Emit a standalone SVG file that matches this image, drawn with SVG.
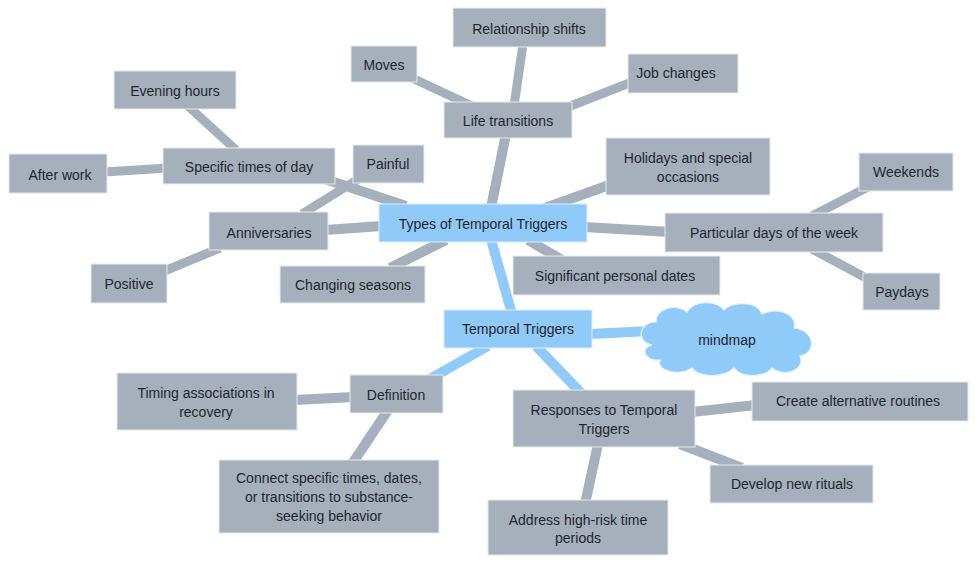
<svg xmlns="http://www.w3.org/2000/svg" width="978" height="566" viewBox="0 0 978 566">
<style>
.bg{fill:#ffffff}
.n rect{fill:#a6b0bc;stroke:#e6eaee;stroke-width:1}
.n.b rect{fill:#90caf9;stroke:#dceefc}
.cl{fill:#90caf9;stroke:#e6f3fd;stroke-width:1.2}
text{font-family:"Liberation Sans","Open Sans",sans-serif;font-size:14px;fill:#1e2530;text-anchor:middle;dominant-baseline:central}
.e line{stroke:#a6b0bc;stroke-linecap:butt}
.e .bl{stroke:#90caf9}
</style>
<rect class="bg" x="0" y="0" width="978" height="566"/>
<g id="connectors" class="e">
<line class="bl" x1="512" y1="314" x2="490" y2="236" stroke-width="10"/>
<line class="bl" x1="590" y1="334" x2="650" y2="331" stroke-width="10"/>
<line class="bl" x1="488" y1="346" x2="428" y2="380" stroke-width="10"/>
<line class="bl" x1="536" y1="346" x2="582" y2="394" stroke-width="10"/>
<line x1="491" y1="208" x2="506" y2="134" stroke-width="10"/>
<line x1="514" y1="106" x2="523" y2="44" stroke-width="9"/>
<line x1="412" y1="78" x2="472" y2="106" stroke-width="9"/>
<line x1="568" y1="107" x2="632" y2="82" stroke-width="9"/>
<line x1="545" y1="208" x2="612" y2="184" stroke-width="10"/>
<line x1="584" y1="227" x2="670" y2="232" stroke-width="10"/>
<line x1="812" y1="216" x2="868" y2="187" stroke-width="9"/>
<line x1="812" y1="249" x2="868" y2="279" stroke-width="9"/>
<line x1="528" y1="240" x2="562" y2="260" stroke-width="10"/>
<line x1="446" y1="240" x2="390" y2="268" stroke-width="10"/>
<line x1="382" y1="226" x2="325" y2="230" stroke-width="10"/>
<line x1="220" y1="248" x2="162" y2="272" stroke-width="9"/>
<line x1="406" y1="206" x2="322" y2="178" stroke-width="10"/>
<line x1="302" y1="214" x2="360" y2="178" stroke-width="9"/>
<line x1="188" y1="106" x2="236" y2="150" stroke-width="9"/>
<line x1="104" y1="172" x2="168" y2="168" stroke-width="9"/>
<line x1="294" y1="400" x2="354" y2="397" stroke-width="10"/>
<line x1="388" y1="410" x2="352" y2="464" stroke-width="10"/>
<line x1="692" y1="412" x2="756" y2="405" stroke-width="10"/>
<line x1="680" y1="444" x2="742" y2="468" stroke-width="10"/>
<line x1="598" y1="444" x2="585" y2="504" stroke-width="10"/>
</g>
<g id="n-root" class="n b"><rect x="444" y="310" width="148" height="38"/><text x="518" y="329">Temporal Triggers</text></g>
<g id="n-cloud"><path class="cl" d="M652,345 C636,342 638,322 656,322 C656,308 676,303 687,312 C694,300 716,300 724,310 C734,300 758,302 762,314 C776,306 798,314 794,328 C814,330 818,352 800,356 C806,370 784,378 772,368 C764,378 742,378 734,368 C724,378 700,378 692,368 C680,376 656,372 660,360 C644,362 640,347 652,345 Z"/><text x="727" y="340">mindmap</text></g>
<g id="n-types" class="n b"><rect x="379" y="204" width="208" height="38"/><text x="483" y="224">Types of Temporal Triggers</text></g>
<g id="n-life" class="n"><rect x="444" y="102" width="128" height="36"/><text x="508" y="121">Life transitions</text></g>
<g id="n-rel" class="n"><rect x="453" y="8" width="153" height="39"/><text x="529" y="29">Relationship shifts</text></g>
<g id="n-moves" class="n"><rect x="351" y="46" width="66" height="36"/><text x="384" y="65">Moves</text></g>
<g id="n-job" class="n"><rect x="628" y="54" width="110" height="39"/><text x="676" y="73">Job changes</text></g>
<g id="n-hol" class="n"><rect x="606" y="138" width="164" height="57"/><text x="688" y="158">Holidays and special</text><text x="688" y="177">occasions</text></g>
<g id="n-part" class="n"><rect x="665" y="213" width="218" height="39"/><text x="774" y="233">Particular days of the week</text></g>
<g id="n-week" class="n"><rect x="859" y="153" width="94" height="38"/><text x="906" y="172">Weekends</text></g>
<g id="n-pay" class="n"><rect x="863" y="273" width="77" height="37"/><text x="902" y="292">Paydays</text></g>
<g id="n-sig" class="n"><rect x="513" y="256" width="207" height="39"/><text x="615" y="276">Significant personal dates</text></g>
<g id="n-seas" class="n"><rect x="280" y="266" width="145" height="37"/><text x="353" y="285">Changing seasons</text></g>
<g id="n-ann" class="n"><rect x="209" y="212" width="119" height="38"/><text x="269" y="233">Anniversaries</text></g>
<g id="n-pos" class="n"><rect x="91" y="264" width="76" height="39"/><text x="129" y="284">Positive</text></g>
<g id="n-pain" class="n"><rect x="353" y="145" width="71" height="38"/><text x="388" y="164">Painful</text></g>
<g id="n-spec" class="n"><rect x="163" y="148" width="172" height="36"/><text x="249" y="167">Specific times of day</text></g>
<g id="n-eve" class="n"><rect x="114" y="71" width="122" height="38"/><text x="175" y="91">Evening hours</text></g>
<g id="n-after" class="n"><rect x="9" y="154" width="98" height="39"/><text x="60" y="175">After work</text></g>
<g id="n-def" class="n"><rect x="350" y="375" width="93" height="38"/><text x="396" y="395">Definition</text></g>
<g id="n-timing" class="n"><rect x="117" y="373" width="180" height="57"/><text x="206" y="393">Timing associations in</text><text x="206" y="412">recovery</text></g>
<g id="n-conn" class="n"><rect x="219" y="460" width="220" height="73"/><text x="329" y="478">Connect specific times, dates,</text><text x="329" y="497">or transitions to substance-</text><text x="329" y="516">seeking behavior</text></g>
<g id="n-resp" class="n"><rect x="513" y="390" width="182" height="57"/><text x="604" y="410">Responses to Temporal</text><text x="604" y="429">Triggers</text></g>
<g id="n-create" class="n"><rect x="752" y="382" width="216" height="39"/><text x="858" y="401">Create alternative routines</text></g>
<g id="n-dev" class="n"><rect x="710" y="465" width="163" height="38"/><text x="792" y="484">Develop new rituals</text></g>
<g id="n-addr" class="n"><rect x="488" y="500" width="180" height="55"/><text x="578" y="520">Address high-risk time</text><text x="578" y="538">periods</text></g>
</svg>
